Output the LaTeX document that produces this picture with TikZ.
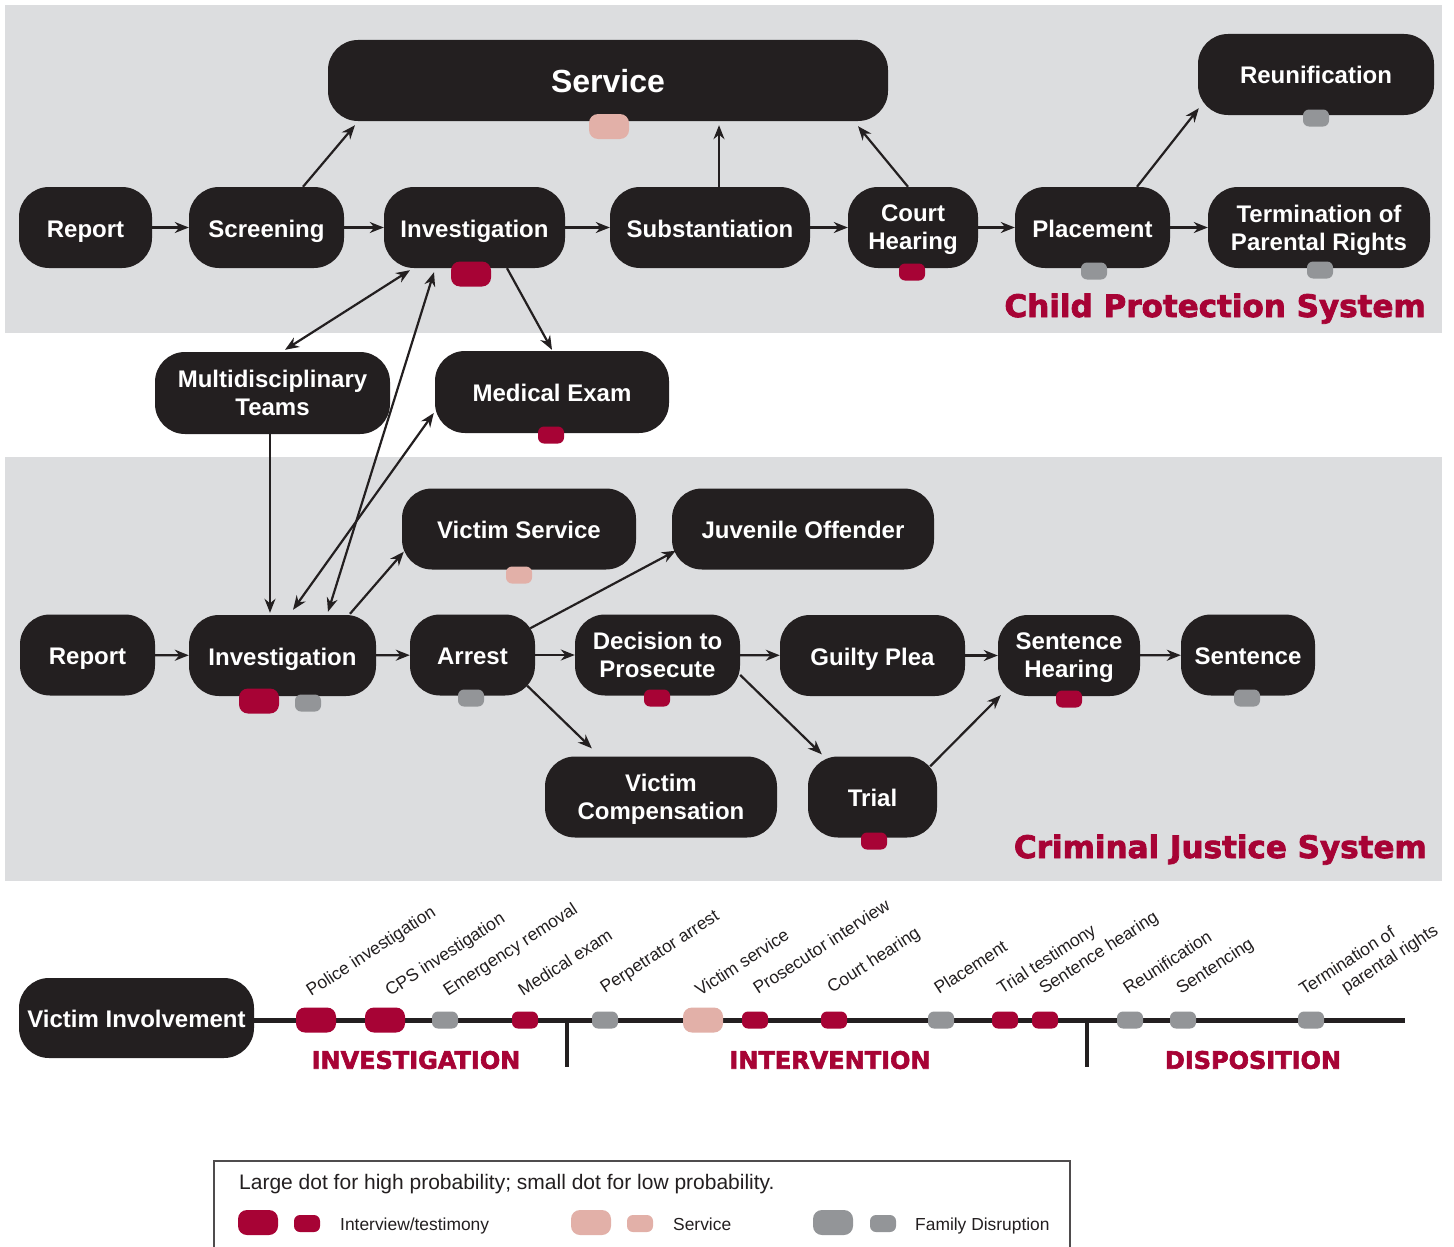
\documentclass[tikz,border=0pt]{standalone}
\usepackage{fontspec}
\setmainfont{Liberation Sans}
\newfontfamily\heavyfont{DejaVu Sans}[BoldFeatures={FakeBold=2.5}]
\usetikzlibrary{arrows.meta,calc}
\definecolor{boxc}{HTML}{231F20}
\definecolor{panel}{HTML}{DCDDDF}
\definecolor{cred}{HTML}{A70335}
\definecolor{cpink}{HTML}{E2B0A8}
\definecolor{cgray}{HTML}{939598}
\newcommand{\nodepth}[1]{\raisebox{0pt}[\height][0pt]{#1}}
\begin{document}
\begin{tikzpicture}[x=1pt,y=-1pt,
  box/.style={fill=boxc, text=white, rounded corners=30pt, inner sep=0pt, minimum height=81pt, align=center, font=\bfseries\fontsize{24}{28}\selectfont, text height=19pt, text depth=0pt},
  boxtwo/.style={fill=boxc, text=white, rounded corners=30pt, inner sep=0pt, minimum height=81pt, align=center, font=\bfseries\fontsize{24}{28}\selectfont},
  bigdot/.style={minimum width=40pt, minimum height=25pt, rounded corners=9pt, inner sep=0pt},
  smalldot/.style={minimum width=26pt, minimum height=17pt, rounded corners=6pt, inner sep=0pt},
  arr/.style={draw=boxc, line width=2.2pt, -{Stealth[length=14pt,width=11pt]}},
  darr/.style={draw=boxc, line width=2.2pt, {Stealth[length=14pt,width=11pt]}-{Stealth[length=14pt,width=11pt]}},
  title/.style={text=cred, font=\heavyfont\bfseries\fontsize{31}{36}\selectfont, inner sep=0pt},
  phase/.style={text=cred, font=\heavyfont\bfseries\fontsize{24}{28}\selectfont, inner sep=0pt},
  tl/.style={text=boxc, font=\fontsize{17.5}{21}\selectfont, rotate=33, anchor=base west, inner sep=0pt},
  leg/.style={text=boxc, font=\fontsize{17.4}{21}\selectfont, anchor=base west, inner sep=0pt}
]
\useasboundingbox (0,0) rectangle (1454,1247);
\fill[white] (0,0) rectangle (1454,1247);
\fill[panel] (5,5) rectangle (1442,333);
\fill[panel] (5,457) rectangle (1442,881);

% ---------- Child protection system ----------
\node[box, minimum width=560pt, font=\bfseries\fontsize{32}{36}\selectfont, text height=24pt] (svc) at (608,80.5) {Service};
\node[box, minimum width=236pt] (reu) at (1316,74.5) {Reunification};
\node[box, minimum width=133pt] (rep1) at (85.5,227.5) {Report};
\node[box, minimum width=155pt] (scr) at (266.5,227.5) {Screening};
\node[box, minimum width=181pt] (inv1) at (474.5,227.5) {Investigation};
\node[box, minimum width=200pt] (sub) at (710,227.5) {Substantiation};
\node[boxtwo, minimum width=130pt] (crt) at (913,227.5) {Court\\\nodepth{Hearing}};
\node[box, minimum width=155pt] (plc) at (1092.5,227.5) {Placement};
\node[boxtwo, minimum width=222pt] (ter) at (1319,227.5) {Termination of\\\nodepth{Parental Rights}};
\node[title, anchor=base east] (cpst) at (1426,317) {Child Protection System};

% ---------- middle ----------
\node[boxtwo, minimum width=235pt, minimum height=82pt] (mdt) at (272.5,393) {Multidisciplinary\\\nodepth{Teams}};
\node[box, minimum width=234pt, minimum height=82pt] (med) at (552,392) {Medical Exam};

% ---------- Criminal justice system ----------
\node[box, minimum width=234pt] (vs) at (519,529) {Victim Service};
\node[box, minimum width=262pt] (juv) at (803,529) {Juvenile Offender};
\node[box, minimum width=135pt] (rep2) at (87.5,655) {Report};
\node[box, minimum width=187pt] (inv2) at (282.5,655.5) {Investigation};
\node[box, minimum width=125pt] (arr) at (472.5,655) {Arrest};
\node[boxtwo, minimum width=165pt] (dec) at (657.5,655) {Decision to\\\nodepth{Prosecute}};
\node[box, minimum width=185pt] (gui) at (872.5,655.5) {Guilty Plea};
\node[boxtwo, minimum width=142pt] (sh) at (1069,655.5) {Sentence\\\nodepth{Hearing}};
\node[box, minimum width=134pt] (sen) at (1248,655) {Sentence};
\node[boxtwo, minimum width=232pt] (vc) at (661,797) {Victim\\\nodepth{Compensation}};
\node[box, minimum width=129pt] (tri) at (872.5,797) {Trial};
\node[title, anchor=base east] (cjst) at (1427,858) {Criminal Justice System};

% ---------- connectors ----------
\draw[arr] (rep1) -- (scr);
\draw[arr] (scr) -- (inv1);
\draw[arr] (inv1) -- (sub);
\draw[arr] (sub) -- (crt);
\draw[arr] (crt) -- (plc);
\draw[arr] (plc) -- (ter);
\draw[arr] ($(scr.north)+(36.5,0)$) -- ($(svc.south)+(-253,4)$);
\draw[arr] ($(sub.north)+(9,0)$) -- ($(svc.south)+(111,4)$);
\draw[arr] ($(crt.north)+(-5,0)$) -- ($(svc.south)+(250,5)$);
\draw[arr] ($(plc.north)+(44.5,0)$) -- ($(reu.south west)+(1,-7)$);

\draw[darr] ($(inv1.south)+(-64.5,2)$) -- ($(mdt.north)+(12.5,-2)$);
\draw[darr] ($(inv2.north)+(45.5,-3)$) -- ($(inv1.south)+(-40.5,4)$);
\draw[darr] ($(inv2.north)+(10.5,-5)$) -- ($(med.west)+(-1,21)$);
\draw[arr] ($(inv1.south)+(32.5,0)$) -- ($(med.north)+(0,-1)$);
\draw[arr] ($(mdt.south)+(-2.5,0)$) -- ($(inv2.north)+(-12.5,-2)$);

\draw[arr] (rep2) -- (inv2);
\draw[arr] (inv2) -- (arr);
\draw[arr] (arr) -- (dec);
\draw[arr] (dec) -- (gui);
\draw[arr] (gui) -- (sh);
\draw[arr] (sh) -- (sen);
\draw[arr] ($(inv2.north)+(67.5,-1)$) -- ($(vs.south west)+(2,-18)$);
\draw[arr] ($(arr.north east)+(-5,14)$) -- ($(juv.south west)+(4,-19)$);
\draw[arr] ($(arr.south east)+(-8,-10)$) -- ($(vc.north west)+(47,-8)$);
\draw[arr] ($(dec.east)+(0,20)$) -- ($(tri.north west)+(14,-2)$);
\draw[arr] ($(tri.north east)+(-7,10)$) -- ($(sh.south west)+(3,-1)$);

% ---------- dots on boxes ----------
\node[bigdot, fill=cpink] (dsvc) at (609,126.5) {};
\node[bigdot, fill=cred] (dinv1) at (471,274) {};
\node[smalldot, fill=cred] (dcrt) at (912,272) {};
\node[smalldot, fill=cgray] (dplc) at (1094,271) {};
\node[smalldot, fill=cgray] (dter) at (1320,270) {};
\node[smalldot, fill=cgray] (dreu) at (1316,118) {};
\node[smalldot, fill=cred] (dmed) at (551,435) {};
\node[bigdot, fill=cred] (dinv2a) at (259,701) {};
\node[smalldot, fill=cgray] (dinv2b) at (308,703) {};
\node[smalldot, fill=cgray] (darr) at (471,698) {};
\node[smalldot, fill=cred] (ddec) at (657,698) {};
\node[smalldot, fill=cred] (dsh) at (1069,699) {};
\node[smalldot, fill=cgray] (dsen) at (1247,698) {};
\node[smalldot, fill=cpink] (dvs) at (519,575) {};
\node[smalldot, fill=cred] (dtri) at (874,841) {};

% ---------- victim involvement timeline ----------
\node[box, minimum width=235pt, minimum height=80pt] (vi) at (136.5,1018) {Victim Involvement};
\coordinate (tlend) at (1405,1020);
\draw[boxc, line width=5pt] (vi.east |- tlend) -- (tlend);
\coordinate (tk1) at (567,1018);
\coordinate (tk1b) at (567,1067);
\coordinate (tk2) at (1087,1018);
\coordinate (tk2b) at (1087,1067);
\draw[boxc, line width=4pt] (tk1) -- (tk1b);
\draw[boxc, line width=4pt] (tk2) -- (tk2b);

\node[bigdot, fill=cred] (t1) at (316,1020) {};
\node[bigdot, fill=cred] (t2) at (385,1020) {};
\node[smalldot, fill=cgray] (t3) at (445,1020) {};
\node[smalldot, fill=cred] (t4) at (525,1020) {};
\node[smalldot, fill=cgray] (t5) at (605,1020) {};
\node[bigdot, fill=cpink] (t6) at (703,1020) {};
\node[smalldot, fill=cred] (t7) at (755,1020) {};
\node[smalldot, fill=cred] (t8) at (834,1020) {};
\node[smalldot, fill=cgray] (t9) at (941,1020) {};
\node[smalldot, fill=cred] (t10) at (1005,1020) {};
\node[smalldot, fill=cred] (t11) at (1045,1020) {};
\node[smalldot, fill=cgray] (t12) at (1130,1020) {};
\node[smalldot, fill=cgray] (t13) at (1183,1020) {};
\node[smalldot, fill=cgray] (t14) at (1311,1020) {};

\node[tl] (l1) at (311,997) {Police investigation};
\node[tl] (l2) at (390,997) {CPS investigation};
\node[tl] (l3) at (448,997) {Emergency removal};
\node[tl] (l4) at (523,997) {Medical exam};
\node[tl] (l5) at (605,994) {Perpetrator arrest};
\node[tl] (l6) at (700,997) {Victim service};
\node[tl] (l7) at (758,995) {Prosecutor interview};
\node[tl] (l8) at (832,994) {Court hearing};
\node[tl] (l9) at (939,995) {Placement};
\node[tl] (l10) at (1002,995) {Trial testimony};
\node[tl] (l11) at (1044,995) {Sentence hearing};
\node[tl] (l12) at (1128,995) {Reunification};
\node[tl] (l13) at (1181,995) {Sentencing};
\node[tl] (l14) at (1304,996) {Termination of};
\node[tl] (l15) at (1346,994) {parental rights};

\node[phase] (ph1) at (416,1060) {INVESTIGATION};
\node[phase] (ph2) at (830,1060) {INTERVENTION};
\node[phase] (ph3) at (1253,1060) {DISPOSITION};

% ---------- legend ----------
\draw[line width=1.3pt, draw=boxc!80] (214,1262) -- (214,1161) -- (1070,1161) -- (1070,1262);
\node[leg, font=\fontsize{21}{25}\selectfont] (lh) at (239,1189) {Large dot for high probability; small dot for low probability.};
\node[bigdot, fill=cred] (g1) at (258,1222.5) {};
\node[smalldot, fill=cred] (g2) at (307,1223.5) {};
\node[leg] (g3) at (340,1230) {Interview/testimony};
\node[bigdot, fill=cpink] (g4) at (591,1222.5) {};
\node[smalldot, fill=cpink] (g5) at (640,1223.5) {};
\node[leg] (g6) at (673,1230) {Service};
\node[bigdot, fill=cgray] (g7) at (833,1222.5) {};
\node[smalldot, fill=cgray] (g8) at (883,1223.5) {};
\node[leg] (g9) at (915,1230) {Family Disruption};
\end{tikzpicture}
\end{document}
